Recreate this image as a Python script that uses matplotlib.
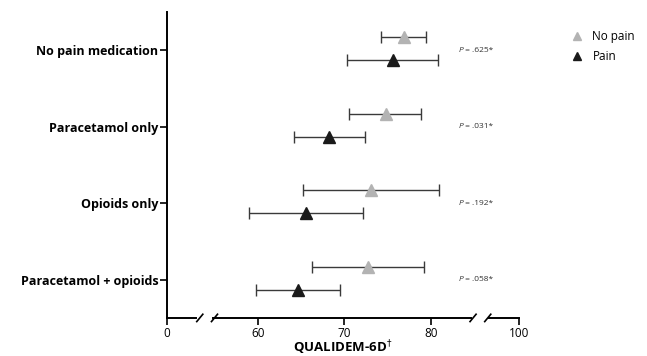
import numpy as np
import matplotlib
matplotlib.use("Agg")
import matplotlib.pyplot as plt
import matplotlib.transforms as mtransforms

categories = ["No pain medication", "Paracetamol only", "Opioids only", "Paracetamol + opioids"]
nopain_mean = [76.9, 74.8, 73.1, 72.8]
nopain_low = [74.3, 70.6, 65.2, 66.3]
nopain_high = [79.5, 78.9, 81.0, 79.2]
pain_mean = [75.6, 68.2, 65.6, 64.7]
pain_low = [70.3, 64.2, 59.0, 59.85]
pain_high = [80.8, 72.45, 72.2, 69.5]
p_values = [".625*", ".031*", ".192*", ".058*"]
xticks = [0, 60, 70, 80, 100]

plt.rcParams['font.family'] = ['Open Sans', 'DejaVu Sans']

# broken-axis mapping
XP = [0, 54, 86, 100]
FP = [49.5, 54, 86, 90.2]
def fwd(x):
    return np.interp(x, XP, FP)
def inv(u):
    return np.interp(u, FP, XP)

fig = plt.figure(figsize=(6.47, 3.56), dpi=100)
ax = fig.add_axes([0.258, 0.107, 0.544, 0.859])
ax.set_xscale('function', functions=(fwd, inv))
ax.set_xlim(0, 100)
n = len(categories)
ypos = np.arange(n)
ax.set_ylim(n - 0.5, -0.5)

off_np = -0.17
off_p = 0.13
ecol = '#3a3a3a'
y_np = ypos + off_np
y_p = ypos + off_p
ax.errorbar(nopain_mean, y_np,
            xerr=[np.array(nopain_mean) - np.array(nopain_low), np.array(nopain_high) - np.array(nopain_mean)],
            fmt='none', ecolor=ecol, elinewidth=1.0, capsize=4, capthick=1.0, zorder=2)
ax.errorbar(pain_mean, y_p,
            xerr=[np.array(pain_mean) - np.array(pain_low), np.array(pain_high) - np.array(pain_mean)],
            fmt='none', ecolor=ecol, elinewidth=1.0, capsize=4, capthick=1.0, zorder=2)
ax.plot(nopain_mean, y_np, linestyle='none', marker='^', markersize=8, color='#b3b3b3', zorder=3, label='No pain')
ax.plot(pain_mean, y_p, linestyle='none', marker='^', markersize=8, color='#1a1a1a', zorder=3, label='Pain')

for yi, pv in zip(ypos, p_values):
    t = ax.text(83.2, yi, "P", fontsize=6, fontstyle='italic', va='center', ha='left', color='#333333')
    ax.annotate(" = " + pv, xy=(1, 0.5), xycoords=t, fontsize=6, va='center', ha='left', color='#333333')

ax.set_yticks(ypos)
ax.set_yticklabels(categories, fontsize=9, fontweight='bold')
ax.set_xticks(xticks)
ax.set_xticklabels([str(t) for t in xticks], fontsize=8.5)
ax.tick_params(axis='y', length=5, width=1.2, pad=1)
ax.tick_params(axis='x', length=5, width=1.2, pad=1.5)
ax.set_xlabel("QUALIDEM-6D$^{\\dagger}$", fontsize=9.5, fontweight='bold', labelpad=-1)

for s in ['top', 'right', 'bottom']:
    ax.spines[s].set_visible(False)
ax.spines['left'].set_linewidth(1.4)

# broken bottom axis line
trans = mtransforms.blended_transform_factory(ax.transData, ax.transAxes)
segs_u = [(49.5, 52.85), (54.8, 84.7), (86.8, 90.2)]
for a, b in segs_u:
    ax.plot([inv(a), inv(b)], [0, 0], color='black', lw=1.4, transform=trans, clip_on=False)
for cu in [53.3, 55.0, 84.9, 86.6]:
    ax.plot([inv(cu - 0.35), inv(cu + 0.35)], [-0.012, 0.012], color='black', lw=1.2,
            transform=trans, clip_on=False)

leg = ax.legend(loc='upper left', bbox_to_anchor=(1.115, 0.975), frameon=False, fontsize=8.5,
                handletextpad=0.7, labelspacing=0.6, handlelength=1.2, markerscale=0.8)

fig.savefig("out.png", dpi=100)
